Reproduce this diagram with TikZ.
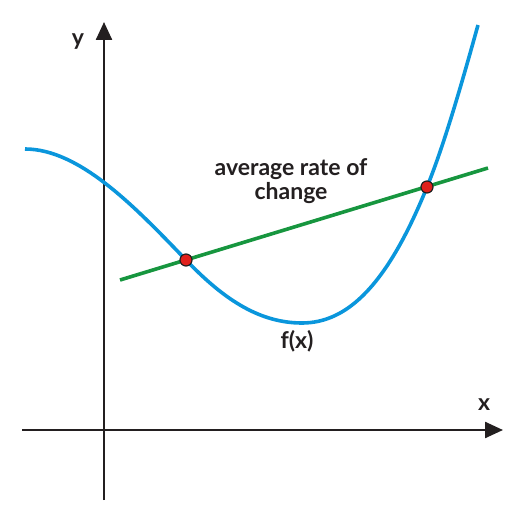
\documentclass[tikz,border=0pt]{standalone}
\usepackage{fontspec}
\setmainfont{Lato}
\usetikzlibrary{arrows.meta}
\definecolor{axisgray}{HTML}{231F20}
\definecolor{curveblue}{HTML}{0A96DC}
\definecolor{linegreen}{HTML}{17963F}
\definecolor{dotred}{HTML}{E0201C}
\begin{document}
\begin{tikzpicture}[x=1pt,y=-1pt,
  axis/.style={draw=axisgray,line width=2.4pt,-{Triangle[length=18pt,width=16pt]}},
  fcurve/.style={draw=curveblue,line width=3.6pt},
  secant/.style={draw=linegreen,line width=3.6pt},
  dotpt/.style={circle,fill=dotred,draw=axisgray,line width=1.2pt,inner sep=0pt,minimum size=12pt},
  lbl/.style={font=\bfseries\fontsize{23}{24.5}\selectfont,text=axisgray,inner sep=0pt,align=center}]
\useasboundingbox (0,0) rectangle (519,524);
\coordinate (ybot) at (104,500);
\coordinate (ytop) at (104,22);
\coordinate (xl) at (22,430);
\coordinate (xr) at (503,430);
\draw[axis] (ybot) -- (ytop);
\draw[axis] (xl) -- (xr);
\node[lbl] (ylab) at (78,42) {y};
\node[lbl] (xlab) at (484,405) {x};
\coordinate (c0) at (25,149);
\coordinate (cmin) at (302,323);
\coordinate (cend) at (478,25);
\coordinate (s1) at (120,280);
\coordinate (s2) at (488,168);
\draw[secant] (s1) -- (s2);
\draw[fcurve] (c0) .. controls (80,149) and (136,208) .. (186,260)
  .. controls (221,296.4) and (257,323) .. (cmin)
  .. controls (347,323) and (387,285.8) .. (427,187)
  .. controls (444,145) and (461,86.2) .. (cend);
\node[dotpt] (p1) at (186,260) {};
\node[dotpt] (p2) at (427,187) {};
\node[lbl] (avg) at (291,181) {average rate of\\change};
\node[lbl] (flab) at (297,341) {f(x)};
\end{tikzpicture}
\end{document}
